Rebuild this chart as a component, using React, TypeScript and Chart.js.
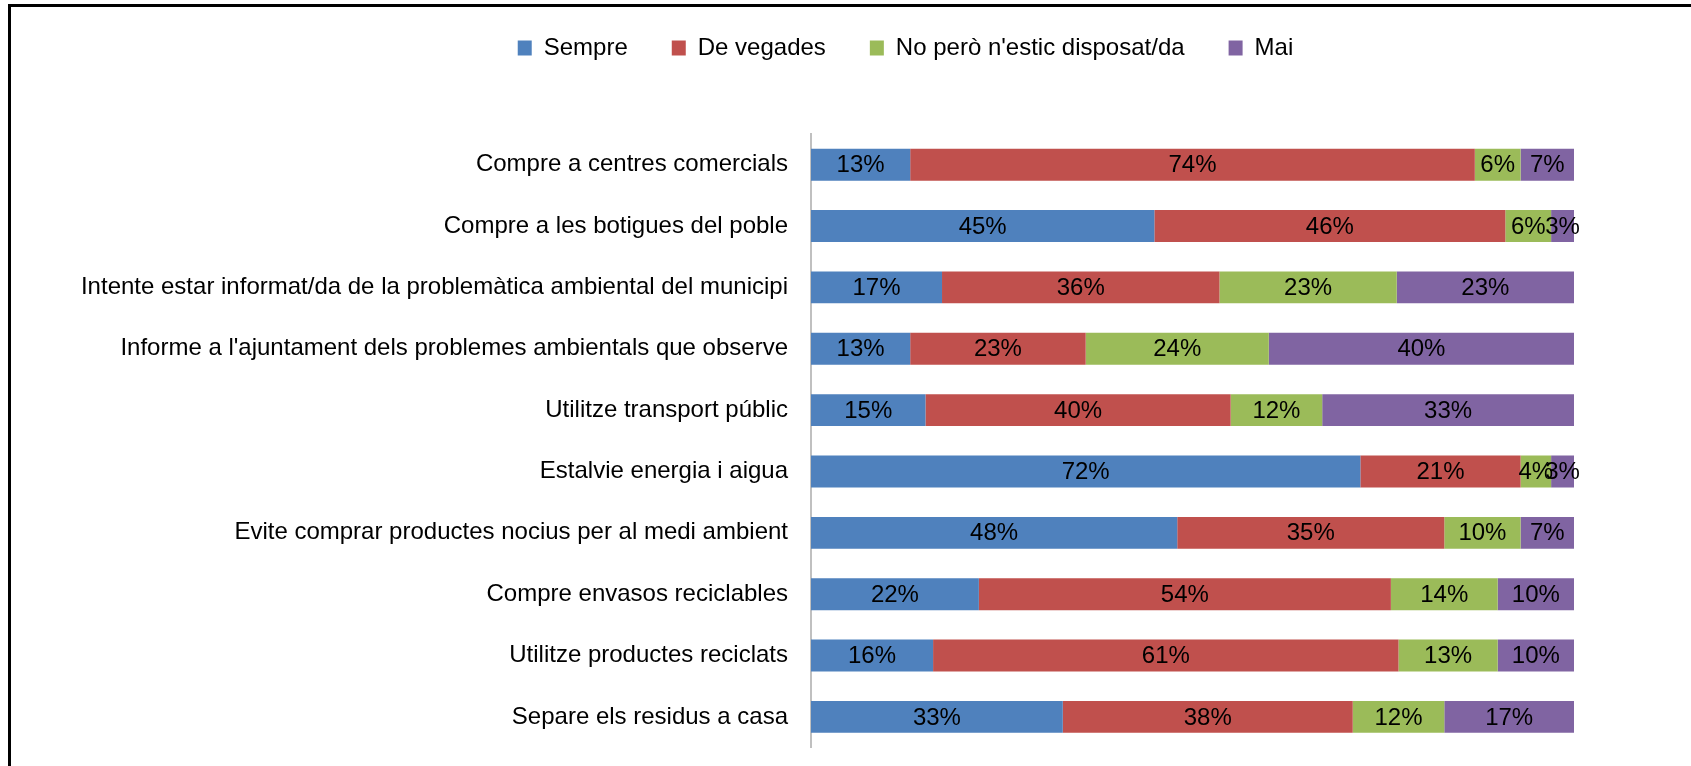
import React, { useEffect, useRef } from "react";
import { Chart, registerables } from "chart.js";

Chart.register(...registerables);

const categories = [
  "Compre a centres comercials",
  "Compre a les botigues del poble",
  "Intente estar informat/da de la problemàtica ambiental del municipi",
  "Informe a l'ajuntament dels problemes ambientals que observe",
  "Utilitze transport públic",
  "Estalvie energia i aigua",
  "Evite comprar productes nocius per al medi ambient",
  "Compre envasos reciclables",
  "Utilitze productes reciclats",
  "Separe els residus a casa",
];

const seriesNames = ["Sempre", "De vegades", "No però n'estic disposat/da", "Mai"];

const sempre = [13, 45, 17, 13, 15, 72, 48, 22, 16, 33];
const deVegades = [74, 46, 36, 23, 40, 21, 35, 54, 61, 38];
const noPero = [6, 6, 23, 24, 12, 4, 10, 14, 13, 12];
const mai = [7, 3, 23, 40, 33, 3, 7, 10, 10, 17];

const seriesValues = [sempre, deVegades, noPero, mai];
const seriesColors = ["#4F81BD", "#C0504D", "#9BBB59", "#8064A2"];

const FONT_FAMILY = '"Liberation Sans", Arial, sans-serif';
const FONT_SIZE = 24;

// 100% stacked: each row normalised to its total
const rowTotals = categories.map((_, i) =>
  seriesValues.reduce((s, arr) => s + arr[i], 0)
);

const valueLabels = {
  id: "valueLabels",
  afterDatasetsDraw(chart: any) {
    const ctx = chart.ctx;
    ctx.save();
    ctx.font = `${FONT_SIZE}px ${FONT_FAMILY}`;
    ctx.fillStyle = "#000";
    ctx.textAlign = "center";
    ctx.textBaseline = "middle";
    chart.data.datasets.forEach((_ds: any, di: number) => {
      const meta = chart.getDatasetMeta(di);
      if (meta.hidden) return;
      meta.data.forEach((el: any, i: number) => {
        const { x, base, y } = el.getProps(["x", "base", "y"], true);
        ctx.fillText(seriesValues[di][i] + "%", (x + base) / 2, y + 1);
      });
    });
    ctx.restore();
  },
};

// centre the legend over the span 120..1691 (as in the original layout)
const legendPlacement = {
  id: "legendPlacement",
  afterLayout(chart: any) {
    const lg = chart.legend;
    if (!lg) return;
    lg.left = 120;
    lg.right = 1691;
  },
};

const PLOT_LEFT = 811;
const PLOT_TOP = 142; // canvas coords (canvas is shifted up by 8px)

export default function App() {
  const canvasRef = useRef<HTMLCanvasElement | null>(null);

  useEffect(() => {
    if (!canvasRef.current) return;
    const chart = new Chart(canvasRef.current, {
      type: "bar",
      data: {
        labels: categories,
        datasets: seriesNames.map((name, di) => ({
          label: name,
          data: seriesValues[di].map((v, i) => (v / rowTotals[i]) * 100),
          backgroundColor: seriesColors[di],
          borderWidth: 0,
          categoryPercentage: 1,
          barPercentage: 0.52,
        })),
      },
      options: {
        indexAxis: "y",
        responsive: false,
        animation: false,
        layout: { padding: { left: 0, right: 117, top: 0, bottom: 0 } },
        font: { family: FONT_FAMILY, size: FONT_SIZE },
        plugins: {
          tooltip: { enabled: false },
          legend: {
            display: true,
            position: "top",
            align: "center",
            labels: {
              boxWidth: 14,
              boxHeight: 15,
              padding: 44,
              color: "#000",
              font: { family: FONT_FAMILY, size: FONT_SIZE },
            },
          },
        },
        scales: {
          x: {
            stacked: true,
            position: "top",
            min: 0,
            max: 100,
            ticks: { display: false },
            grid: { display: false },
            border: { display: false },
            afterFit: (scale: any) => {
              const lh = scale.chart.legend ? scale.chart.legend.height : 0;
              scale.height = Math.max(PLOT_TOP - lh, 0);
            },
          },
          y: {
            stacked: true,
            ticks: {
              color: "#000",
              padding: 23,
              autoSkip: false,
              font: { family: FONT_FAMILY, size: FONT_SIZE },
            },
            grid: { display: true, drawOnChartArea: false, drawTicks: false },
            border: { display: true, color: "#c0c0c0", width: 2 },
            afterFit: (scale: any) => {
              scale.width = PLOT_LEFT;
            },
          },
        },
      },
      plugins: [valueLabels, legendPlacement],
    } as any);
    return () => chart.destroy();
  }, []);

  return (
    <div
      style={{
        position: "fixed",
        left: 0,
        top: 0,
        width: 1691,
        height: 766,
        overflow: "hidden",
        background: "#fff",
      }}
    >
      <div
        style={{
          position: "absolute",
          left: 8,
          top: 4,
          width: 1800,
          height: 900,
          borderTop: "3px solid #000",
          borderLeft: "3px solid #000",
        }}
      />
      <canvas
        ref={canvasRef}
        width={1691}
        height={793}
        style={{ position: "absolute", left: 0, top: -8, width: 1691, height: 793 }}
      />
    </div>
  );
}
